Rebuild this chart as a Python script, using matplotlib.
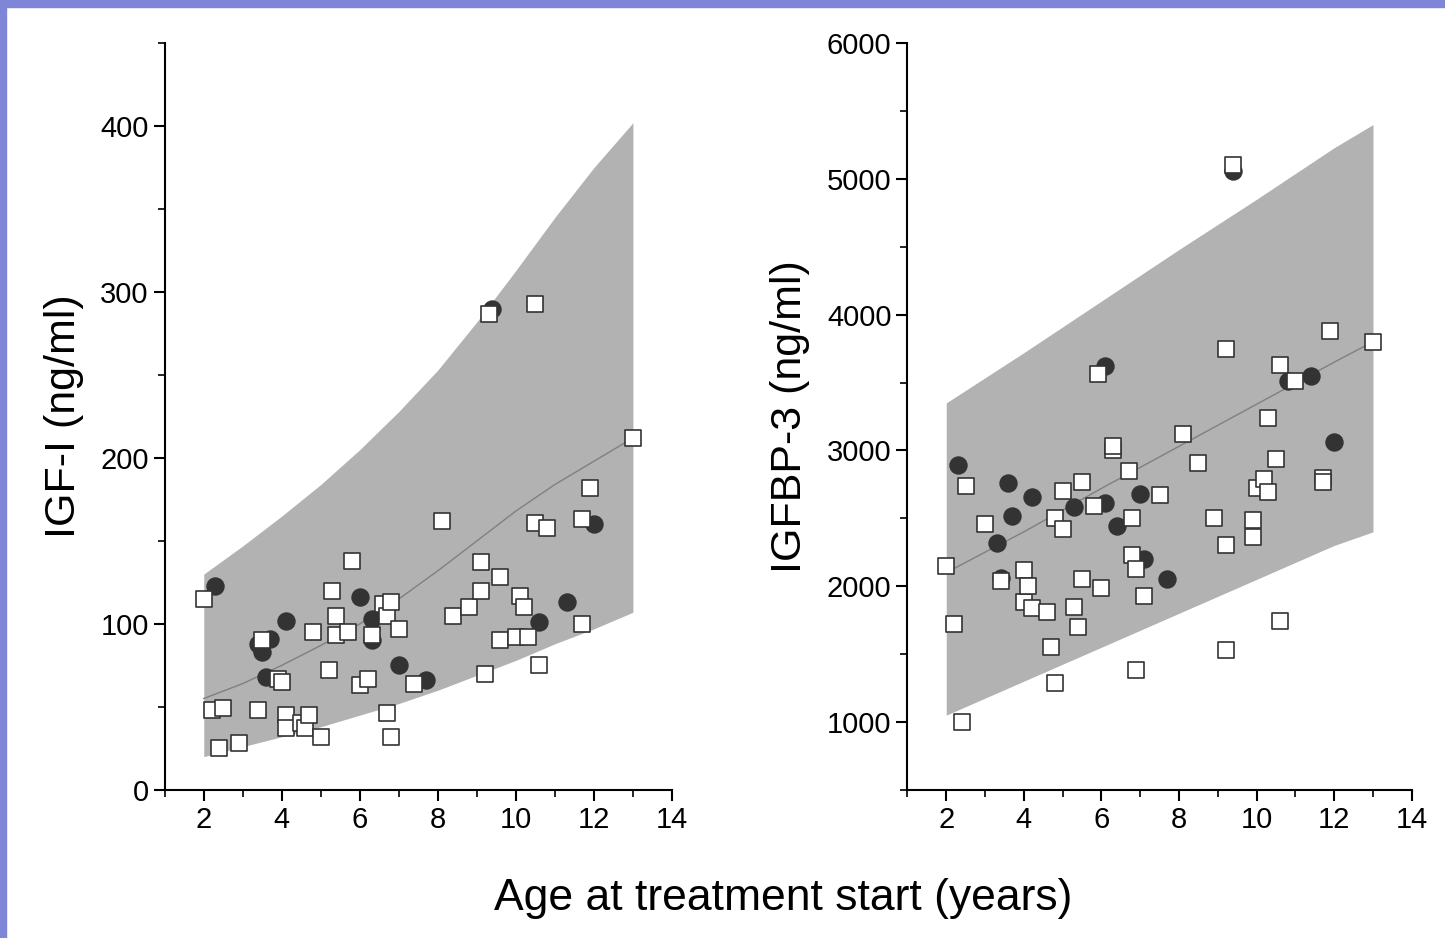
import numpy as np
import matplotlib.pyplot as plt
from matplotlib.patches import Rectangle

plt.rcParams['font.family'] = ['Liberation Sans', 'DejaVu Sans']

# reference band (age, lower, median, upper)
band_age = [2, 3, 4, 5, 6, 7, 8, 9, 10, 11, 12, 13]
igf_lo = [20, 26, 32, 38, 45, 52, 60, 69, 78, 88, 97, 107]
igf_med = [55, 64, 75, 87, 100, 115, 132, 150, 168, 184, 198, 212]
igf_hi = [130, 147, 165, 184, 205, 228, 253, 282, 313, 345, 375, 402]
bp3_lo = [1050, 1175, 1300, 1425, 1550, 1675, 1800, 1925, 2050, 2175, 2300, 2400]
bp3_med = [2100, 2250, 2400, 2560, 2720, 2875, 3030, 3185, 3340, 3495, 3650, 3800]
bp3_hi = [3350, 3535, 3720, 3910, 4100, 4290, 4480, 4665, 4850, 5040, 5230, 5400]

igf_sq_x = [2.0, 2.2, 2.5, 2.4, 2.9, 3.4, 3.5, 3.9, 4.0, 4.1, 4.1, 4.5, 4.6, 4.7, 4.8, 5.0, 5.2, 5.3, 5.4, 5.4,
            5.7, 5.8, 6.0, 6.2, 6.3, 6.6, 6.7, 6.7, 6.8, 6.8, 7.0, 7.4, 8.1, 8.4, 8.8, 9.1, 9.1, 9.2, 9.3, 9.6,
            9.6, 10.0, 10.1, 10.2, 10.3, 10.5, 10.5, 10.6, 10.8, 11.7, 11.7, 11.9, 13.0]
igf_sq_y = [115, 48, 49, 25, 28, 48, 90, 67, 65, 45, 37, 40, 37, 45, 95, 32, 72, 120, 105, 93,
            95, 138, 63, 67, 93, 112, 105, 46, 32, 113, 97, 64, 162, 105, 110, 137, 120, 70, 287, 128,
            90, 92, 117, 110, 92, 293, 161, 75, 158, 163, 100, 182, 212]
igf_ci_x = [2.3, 3.4, 3.5, 3.6, 3.7, 4.1, 6.0, 6.3, 6.3, 7.0, 7.7, 9.4, 10.6, 11.3, 12.0]
igf_ci_y = [123, 88, 83, 68, 91, 102, 116, 103, 90, 75, 66, 290, 101, 113, 160]

bp3_sq_x = [2.0, 2.2, 2.4, 2.5, 3.0, 3.4, 4.0, 4.0, 4.1, 4.2, 4.6, 4.7, 4.8, 4.8, 5.0, 5.0, 5.3, 5.4, 5.5, 5.5,
            5.8, 5.9, 6.0, 6.3, 6.3, 6.7, 6.8, 6.8, 6.9, 6.9, 7.1, 7.5, 8.1, 8.5, 8.9, 9.2, 9.2, 9.2, 9.4, 9.9,
            9.9, 10.0, 10.2, 10.3, 10.3, 10.5, 10.6, 10.6, 11.0, 11.7, 11.7, 11.9, 13.0]
bp3_sq_y = [2150, 1720, 1000, 2740, 2460, 2040, 2120, 1880, 2000, 1840, 1810, 1550, 1290, 2500, 2700, 2420,
            1850, 1700, 2050, 2770, 2590, 3560, 1990, 3000, 3030, 2850, 2500, 2230, 2130, 1380, 1930, 2670,
            3120, 2910, 2500, 3750, 2300, 1530, 5100, 2490, 2360, 2720, 2790, 3240, 2690, 2940, 3630, 1740,
            3510, 2800, 2770, 3880, 3800]
bp3_ci_x = [2.3, 3.3, 3.4, 3.6, 3.7, 4.2, 5.3, 6.1, 6.1, 6.4, 7.0, 7.1, 7.7, 9.4, 10.8, 11.4, 12.0]
bp3_ci_y = [2890, 2320, 2060, 2760, 2520, 2660, 2580, 3620, 2610, 2440, 2680, 2200, 2050, 5060, 3510, 3550, 3060]


def draw_panel(ax, lo, med, hi, cx, cy, sx, sy, ylim, yticks, yminor, ylabel):
    ax.fill_between(band_age, lo, hi, color='#b2b2b2', lw=0, zorder=1)
    ax.plot(band_age, med, color='#808080', lw=1, zorder=2)
    ax.scatter(cx, cy, s=150, color='#333333', zorder=3)
    ax.scatter(sx, sy, s=130, marker='s', facecolor='white', edgecolor='#333333', lw=1.2, zorder=4)
    ax.set_xlim(1, 14)
    ax.set_ylim(*ylim)
    ax.set_xticks(range(2, 15, 2))
    ax.set_xticks(range(1, 15), minor=True)
    ax.set_yticks(yticks)
    ax.set_yticks(yminor, minor=True)
    ax.spines[['top', 'right']].set_visible(False)
    for s in ['left', 'bottom']:
        ax.spines[s].set_linewidth(1.5)
    ax.tick_params(direction='out', length=8, width=1.5, labelsize=21)
    ax.tick_params(which='minor', direction='out', length=5, width=1.2)
    ax.set_ylabel(ylabel, fontsize=31, labelpad=12)


fig = plt.figure(figsize=(14.45, 9.38), dpi=100)
ax1 = fig.add_axes([0.114, 0.158, 0.351, 0.796])
ax2 = fig.add_axes([0.628, 0.158, 0.349, 0.796])

draw_panel(ax1, igf_lo, igf_med, igf_hi, igf_ci_x, igf_ci_y, igf_sq_x, igf_sq_y,
           (0, 450), range(0, 401, 100), range(0, 451, 50), 'IGF-I (ng/ml)')
draw_panel(ax2, bp3_lo, bp3_med, bp3_hi, bp3_ci_x, bp3_ci_y, bp3_sq_x, bp3_sq_y,
           (500, 6000), range(1000, 6001, 1000), range(500, 6001, 500), 'IGFBP-3 (ng/ml)')

fig.text(0.542, 0.03, 'Age at treatment start (years)', ha='center', fontsize=32)

# slide border
fig.patches.append(Rectangle((0, 0.993), 1, 0.007, transform=fig.transFigure, color='#7f86d8'))
fig.patches.append(Rectangle((0, 0), 0.004, 1, transform=fig.transFigure, color='#7f86d8'))

fig.savefig('out.png', dpi=100)
